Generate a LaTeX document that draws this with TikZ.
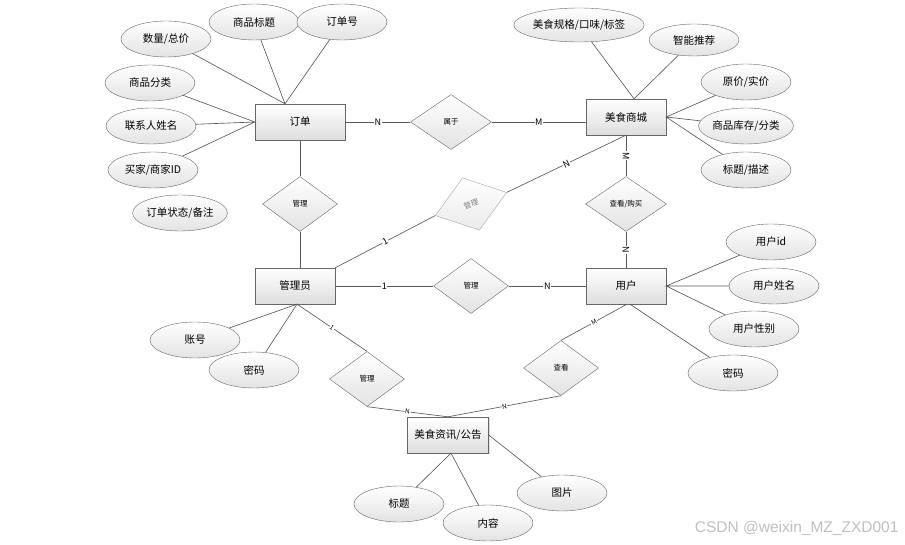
\documentclass[tikz,border=0pt]{standalone}
\usepackage{fontspec}
\setmainfont{Noto Sans CJK SC}
\newfontfamily\marksans{Liberation Sans}
\usetikzlibrary{shapes,positioning,calc,shadows}

\begin{document}
\begin{tikzpicture}[x=1pt,y=-1pt,on grid,node distance=80pt]

    \tikzstyle{entity}=[draw=black!60,rectangle,top color=white,bottom color=black!13,minimum width=80pt,minimum height=36pt,inner sep=0pt,font=\fontsize{10.5}{12}\selectfont,drop shadow={opacity=0.25,shadow xshift=1pt,shadow yshift=-1pt}]
    \tikzstyle{attr}=[draw=black!60,ellipse,top color=white,bottom color=black!11,minimum width=90pt,minimum height=36pt,inner sep=0pt,font=\fontsize{10.5}{12}\selectfont]
    \tikzstyle{rel}=[draw=black!60,diamond,aspect=1.4,top color=white,bottom color=black!11,minimum width=75pt,minimum height=55pt,inner sep=0pt,font=\fontsize{7.5}{8}\selectfont]
    \tikzstyle{ghost}=[draw=black!35,text=black!50,top color=white,bottom color=black!8,rotate=18]
    \tikzstyle{card}=[fill=white,inner sep=0.6pt,sloped,font=\fontsize{9}{9}\selectfont]
    \tikzstyle{tiny}=[font=\fontsize{6.5}{7}\selectfont]
    \tikzstyle{link}=[draw=black!65,line width=0.65pt]
    \tikzstyle{every edge}=[link]

    \useasboundingbox (0,0) rectangle (905,545);

    \node[entity, minimum width=90pt] (ding) at (300,122)   {订单};
    \node[rel, minimum width=81pt] (shu) [right=151pt of ding] {属于};
    \node[entity] (shop) at (626,117)                        {美食商城};
    \node[rel] (gl1) [below=82pt of ding]                    {管理};
    \node[entity] (admin) at (295,286)                       {管理员};
    \node[rel, ghost] (gl2) at (471,204)                     {管理};
    \node[rel, minimum width=81pt] (buy) [below=87pt of shop] {查看/购买};
    \node[entity] (user) [below=82pt of buy]                 {用户};
    \node[rel] (gl3) [right=176pt of admin]                  {管理};
    \node[rel] (gl4) at (367,379)                            {管理};
    \node[rel] (look) at (561,368)                           {查看};
    \node[entity, minimum width=81pt] (news) at (448,435)    {美食资讯/公告};

    \node[attr] (a1) at (166,39)  {数量/总价};
    \node[attr] (a2) at (254,22)  {商品标题};
    \node[attr] (a3) at (342,22)  {订单号};
    \node[attr] (a4) at (150,83)  {商品分类};
    \node[attr] (a5) at (151,126) {联系人姓名};
    \node[attr] (a6) at (153,170) {买家/商家ID};
    \node[attr] (a7) at (180,213) {订单状态/备注};

    \node[attr, minimum width=112pt, minimum height=34pt] (b1) at (579,25) {美食规格/口味/标签};
    \node[attr, minimum height=32pt] (b2) at (694,40) {智能推荐};
    \node[attr] (b3) at (746,82)  {原价/实价};
    \node[attr] (b4) at (746,126) {商品库存/分类};
    \node[attr] (b5) at (746,170) {标题/描述};

    \node[attr] (c1) at (195,340) {账号};
    \node[attr] (c2) at (254,370) {密码};

    \node[attr] (d1) at (771,242) {用户id};
    \node[attr] (d2) at (774,286) {用户姓名};
    \node[attr] (d3) at (754,329) {用户性别};
    \node[attr] (d4) at (733,373) {密码};

    \node[attr] (e1) at (399,504) {标题};
    \node[attr] (e2) at (488,523) {内容};
    \node[attr] (e3) at (562,493) {图片};

    \node[text=black!25, font=\marksans\fontsize{15.5}{17}\selectfont, anchor=east] (mark) at (902,528) {CSDN @weixin\_MZ\_ZXD001};

    \draw[link] (a1) -- ([xshift=-15pt]ding.north) -- (a2)
                ([xshift=-15pt]ding.north) -- (a3);
    \draw[link] (a4) -- (ding.west) -- (a5)
                (ding.west) -- (a6);
    \draw[link] (b1) -- ([xshift=8pt]shop.north) -- (b2);
    \draw[link] (b3) -- (shop.east) -- (b4)
                (shop.east) -- (b5);
    \draw[link] (c1) -- ([xshift=2pt]admin.south) -- (c2);
    \draw[link] (d1) -- (user.east) -- (d2)
                (user.east) -- (d3);
    \draw[link] ([xshift=4pt]user.south) -- (d4);
    \draw[link] (e1) -- ([xshift=3pt]news.south) -- (e2);
    \draw[link] (news.east) -- (e3);

    \path (ding) edge              node[card]       {N} (shu)
          (shu)  edge              node[card]       {M} (shop.west |- shu.east)
          (ding) edge                                   (gl1)
          (gl1)  edge                                   (admin.north -| gl1.south)
          (admin.north east) edge  node[card]       {1} (gl2.west)
          (gl2.east) edge          node[card]       {N} (shop.south)
          (shop) edge              node[card]       {M} (buy)
          (buy)  edge              node[card]       {N} (user)
          (admin) edge             node[card]       {1} (gl3)
          (gl3)  edge              node[card]       {N} (user)
          ([xshift=2pt]admin.south) edge node[card,tiny] {1} (gl4.north)
          (gl4.south) edge         node[card,tiny]  {N} (news.north)
          ([xshift=1pt]user.south) edge node[card,tiny] {M} (look.north)
          (look.south) edge        node[card,tiny]  {N} (news.north);
\end{tikzpicture}
\end{document}
